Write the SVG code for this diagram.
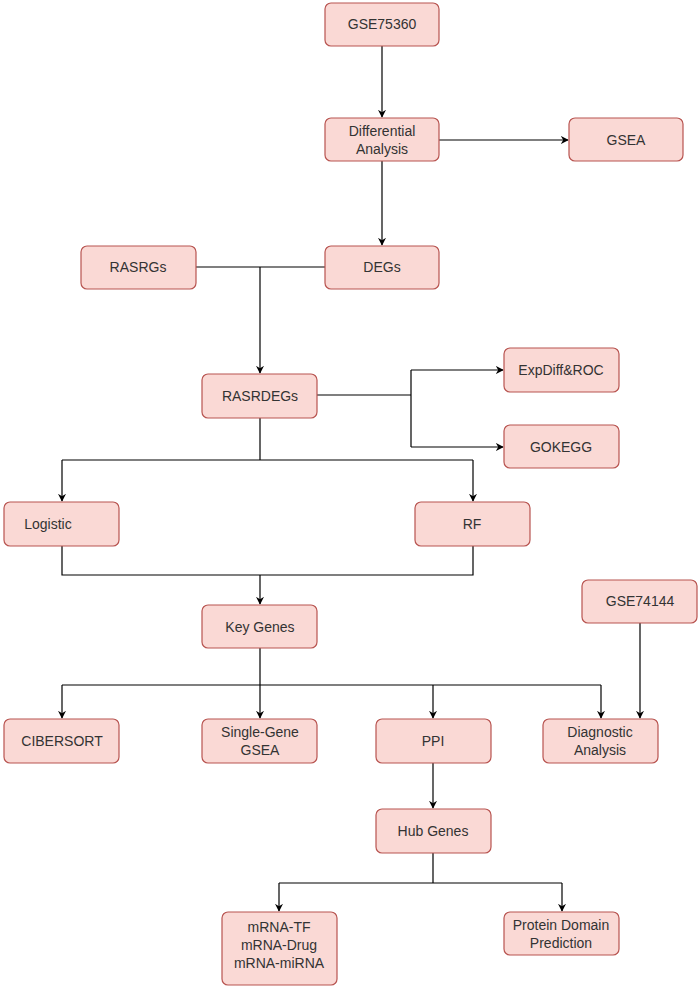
<svg xmlns="http://www.w3.org/2000/svg" width="700" height="991" viewBox="0 0 700 991">
<style>
.n rect{fill:#fad9d5;stroke:#b85450;stroke-width:1.2}
.n text{font-family:"Liberation Sans",Arial,sans-serif;font-size:14px;fill:#333;text-anchor:middle}
.c path{fill:none;stroke:#000;stroke-width:1.2}
</style>
<defs><marker id="a" viewBox="0 0 10 10" refX="9" refY="5" markerWidth="8" markerHeight="8" orient="auto" markerUnits="userSpaceOnUse"><path d="M0,0 L10,5 L0,10 L3,5 z" fill="#000"/></marker></defs>
<rect width="700" height="991" fill="#fff"/>
<g class="c">
<path d="M382,46 V117" marker-end="url(#a)"/>
<path d="M439,140 H568" marker-end="url(#a)"/>
<path d="M382,161 V245" marker-end="url(#a)"/>
<path d="M196,267 H325"/>
<path d="M260,267 V373" marker-end="url(#a)"/>
<path d="M317,395 H411 M411,370 V447"/>
<path d="M411,370 H503" marker-end="url(#a)"/>
<path d="M411,447 H503" marker-end="url(#a)"/>
<path d="M260,418 V460 M62,460 H473"/>
<path d="M62,460 V501" marker-end="url(#a)"/>
<path d="M473,460 V501" marker-end="url(#a)"/>
<path d="M62,546 V575 H473 V546"/>
<path d="M260,575 V604" marker-end="url(#a)"/>
<path d="M260,648 V685 M62,685 H601"/>
<path d="M62,685 V718" marker-end="url(#a)"/>
<path d="M260,685 V718" marker-end="url(#a)"/>
<path d="M433,685 V718" marker-end="url(#a)"/>
<path d="M601,685 V718" marker-end="url(#a)"/>
<path d="M640,623 V718" marker-end="url(#a)"/>
<path d="M433,763 V808" marker-end="url(#a)"/>
<path d="M433,853 V883 M279,883 H562"/>
<path d="M279,883 V911" marker-end="url(#a)"/>
<path d="M562,883 V911" marker-end="url(#a)"/>
</g>
<g class="n" id="gse75360"><rect x="325" y="3" width="114" height="43" rx="6"/><text x="382" y="29">GSE75360</text></g>
<g class="n" id="diff"><rect x="325" y="118" width="114" height="43" rx="6"/><text x="382" y="136">Differential</text><text x="382" y="154">Analysis</text></g>
<g class="n" id="gsea"><rect x="569" y="118" width="114" height="43" rx="6"/><text x="626" y="145">GSEA</text></g>
<g class="n" id="rasrgs"><rect x="81" y="246" width="115" height="43" rx="6"/><text x="138" y="272">RASRGs</text></g>
<g class="n" id="degs"><rect x="325" y="246" width="114" height="43" rx="6"/><text x="382" y="272">DEGs</text></g>
<g class="n" id="rasrdegs"><rect x="202" y="374" width="115" height="44" rx="6"/><text x="260" y="401">RASRDEGs</text></g>
<g class="n" id="expdiff"><rect x="504" y="348" width="115" height="44" rx="6"/><text x="561" y="375">ExpDiff&amp;ROC</text></g>
<g class="n" id="gokegg"><rect x="504" y="425" width="115" height="43" rx="6"/><text x="561" y="452">GOKEGG</text></g>
<g class="n" id="logistic"><rect x="4" y="502" width="115" height="44" rx="6"/><text x="48" y="529">Logistic</text></g>
<g class="n" id="rf"><rect x="415" y="502" width="115" height="44" rx="6"/><text x="472" y="529">RF</text></g>
<g class="n" id="key"><rect x="202" y="605" width="115" height="43" rx="6"/><text x="260" y="632">Key Genes</text></g>
<g class="n" id="gse74144"><rect x="582" y="580" width="115" height="43" rx="6"/><text x="640" y="606">GSE74144</text></g>
<g class="n" id="cibersort"><rect x="4" y="719" width="115" height="44" rx="6"/><text x="62" y="746">CIBERSORT</text></g>
<g class="n" id="sggsea"><rect x="202" y="719" width="115" height="44" rx="6"/><text x="260" y="737">Single-Gene</text><text x="260" y="755">GSEA</text></g>
<g class="n" id="ppi"><rect x="376" y="719" width="115" height="44" rx="6"/><text x="433" y="746">PPI</text></g>
<g class="n" id="diag"><rect x="543" y="719" width="115" height="44" rx="6"/><text x="600" y="737">Diagnostic</text><text x="600" y="755">Analysis</text></g>
<g class="n" id="hub"><rect x="376" y="809" width="115" height="44" rx="6"/><text x="433" y="836">Hub Genes</text></g>
<g class="n" id="mrna"><rect x="222" y="912" width="115" height="73" rx="6"/><text x="279" y="932">mRNA-TF</text><text x="279" y="950">mRNA-Drug</text><text x="279" y="968">mRNA-miRNA</text></g>
<g class="n" id="pdp"><rect x="504" y="912" width="115" height="43" rx="6"/><text x="561" y="930">Protein Domain</text><text x="561" y="948">Prediction</text></g>
</svg>
